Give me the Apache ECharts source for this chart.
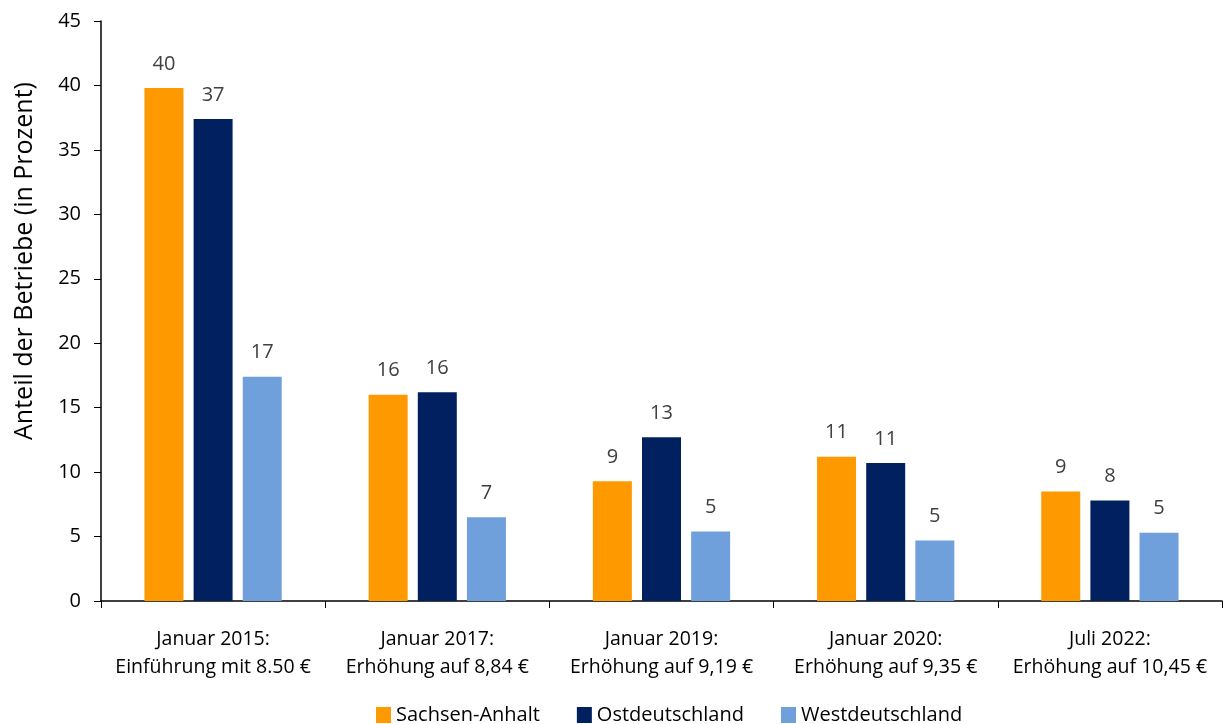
<!DOCTYPE html>
<html>
<head>
<meta charset="utf-8">
<script src="https://cdn.jsdelivr.net/npm/echarts@6/dist/echarts.min.js"></script>
<style>
  html, body { margin: 0; padding: 0; background: #fff; }
  #main { width: 1223px; height: 724px; }
</style>
</head>
<body>
<div id="main"></div>
<script>
var categories = [
    'Januar 2015:\nEinführung mit 8.50 €',
    'Januar 2017:\nErhöhung auf 8,84 €',
    'Januar 2019:\nErhöhung auf 9,19 €',
    'Januar 2020:\nErhöhung auf 9,35 €',
    'Juli 2022:\nErhöhung auf 10,45 €'
];
var sachsenAnhalt = [39.8, 16.0, 9.3, 11.2, 8.5];
var ostdeutschland = [37.4, 16.2, 12.7, 10.7, 7.8];
var westdeutschland = [17.4, 6.5, 5.4, 4.7, 5.3];

var fontFamily = '"Open Sans", "Noto Sans", sans-serif';
var myChart = echarts.init(document.getElementById('main'));

function barSeries(name, data, color) {
    return {
        name: name,
        type: 'bar',
        data: data,
        barWidth: 39,
        barGap: '26%',
        itemStyle: {color: color},
        label: {
            show: true,
            position: 'top',
            distance: 14,
            color: '#404040',
            fontSize: 20,
            fontFamily: fontFamily,
            formatter: function (p) { return Math.round(p.value); }
        }
    };
}

var option = {
    animation: false,
    textStyle: {fontFamily: fontFamily},
    grid: {left: 101, right: 1, top: 21, bottom: 123},
    legend: {
        top: 700,
        left: 371,
        itemWidth: 15,
        itemHeight: 16,
        itemGap: 37,
        icon: 'rect',
        textStyle: {fontSize: 20, color: '#000', fontFamily: fontFamily}
    },
    xAxis: {
        type: 'category',
        data: categories,
        axisLine: {lineStyle: {color: '#000', width: 1.5}},
        axisTick: {show: true, interval: 0, length: 7, lineStyle: {color: '#000'}},
        axisLabel: {
            interval: 0,
            color: '#000',
            fontSize: 19.5,
            lineHeight: 28,
            margin: 24,
            fontFamily: fontFamily
        }
    },
    yAxis: {
        type: 'value',
        min: 0,
        max: 45,
        interval: 5,
        name: 'Anteil der Betriebe (in Prozent)',
        nameLocation: 'middle',
        nameGap: 64,
        nameTextStyle: {fontSize: 25, color: '#000', fontFamily: fontFamily, padding: [0, 0, 0, 100]},
        splitLine: {show: false},
        axisLine: {show: true, lineStyle: {color: '#000', width: 1.5}},
        axisTick: {show: true, length: 7, lineStyle: {color: '#000'}},
        axisLabel: {color: '#000', fontSize: 20, margin: 20, fontFamily: fontFamily}
    },
    series: [
        barSeries('Sachsen-Anhalt', sachsenAnhalt, '#FF9900'),
        barSeries('Ostdeutschland', ostdeutschland, '#00205F'),
        barSeries('Westdeutschland', westdeutschland, '#6FA0DB')
    ]
};

myChart.setOption(option);
</script>
</body>
</html>
